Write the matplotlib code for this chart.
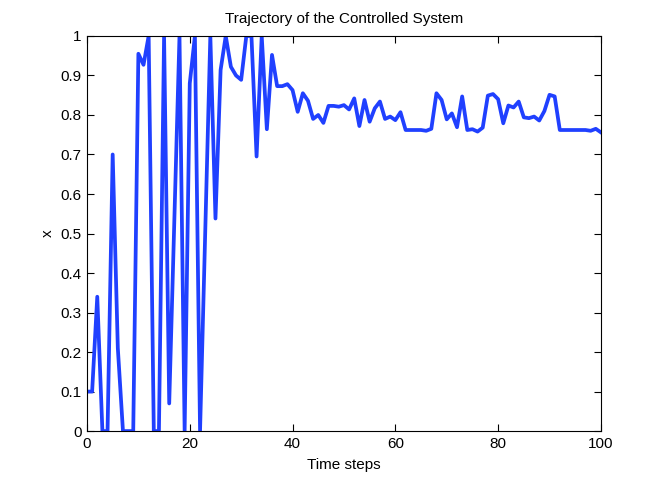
import matplotlib
matplotlib.use("Agg")
import matplotlib.pyplot as plt
import numpy as np

plt.rcParams['font.family'] = ['Liberation Sans', 'DejaVu Sans']

time_steps = list(range(0, 101))
x_values = [
    0.10, 0.10, 0.34, 0.00, 0.00, 0.70, 0.21, 0.00, 0.00, 0.00,   # 0-9
    0.955, 0.927, 1.00, 0.00, 0.00, 1.00, 0.07, 0.535, 1.00, 0.00,  # 10-19
    0.88, 1.00, 0.00, 0.50, 1.00, 0.538, 0.914, 1.00, 0.922, 0.90,  # 20-29
    0.889, 1.00, 1.00, 0.695, 1.00, 0.764, 0.952, 0.873, 0.873, 0.878,  # 30-39
    0.863, 0.808, 0.855, 0.836, 0.79, 0.80, 0.78, 0.823, 0.823, 0.821,  # 40-49
    0.825, 0.814, 0.842, 0.772, 0.838, 0.783, 0.817, 0.834, 0.79, 0.796,  # 50-59
    0.787, 0.807, 0.762, 0.762, 0.762, 0.762, 0.76, 0.765, 0.855, 0.838,  # 60-69
    0.789, 0.804, 0.769, 0.847, 0.762, 0.764, 0.758, 0.768, 0.849, 0.853,  # 70-79
    0.84, 0.779, 0.824, 0.819, 0.834, 0.794, 0.792, 0.796, 0.786, 0.81,  # 80-89
    0.851, 0.847, 0.762, 0.762, 0.762, 0.762, 0.762, 0.762, 0.76, 0.765,  # 90-99
    0.756,  # 100
]

x_ticks = [0, 20, 40, 60, 80, 100]
y_ticks = [0, 0.1, 0.2, 0.3, 0.4, 0.5, 0.6, 0.7, 0.8, 0.9, 1]
y_tick_labels = ['0', '0.1', '0.2', '0.3', '0.4', '0.5', '0.6', '0.7', '0.8', '0.9', '1']

fig = plt.figure(figsize=(6.64, 4.86), dpi=100)
ax = fig.add_axes([0.131, 0.113, 0.774, 0.813])
ax.plot(time_steps, x_values, color='#2040ff', linewidth=2.7)
ax.set_xlim(0, 100)
ax.set_ylim(0, 1)
ax.set_xticks(x_ticks)
ax.set_xticklabels([str(t) for t in x_ticks])
ax.set_yticks(y_ticks)
ax.set_yticklabels(y_tick_labels)
ax.tick_params(direction='in', top=True, right=True, length=5, width=0.8,
               labelsize=11, pad=4)
for s in ax.spines.values():
    s.set_linewidth(0.8)
ax.set_title('Trajectory of the Controlled System', fontsize=11, pad=9)
ax.set_xlabel('Time steps', fontsize=11, labelpad=5)
ax.set_ylabel('x', fontsize=11, labelpad=4)

fig.savefig('out.png', dpi=100)
